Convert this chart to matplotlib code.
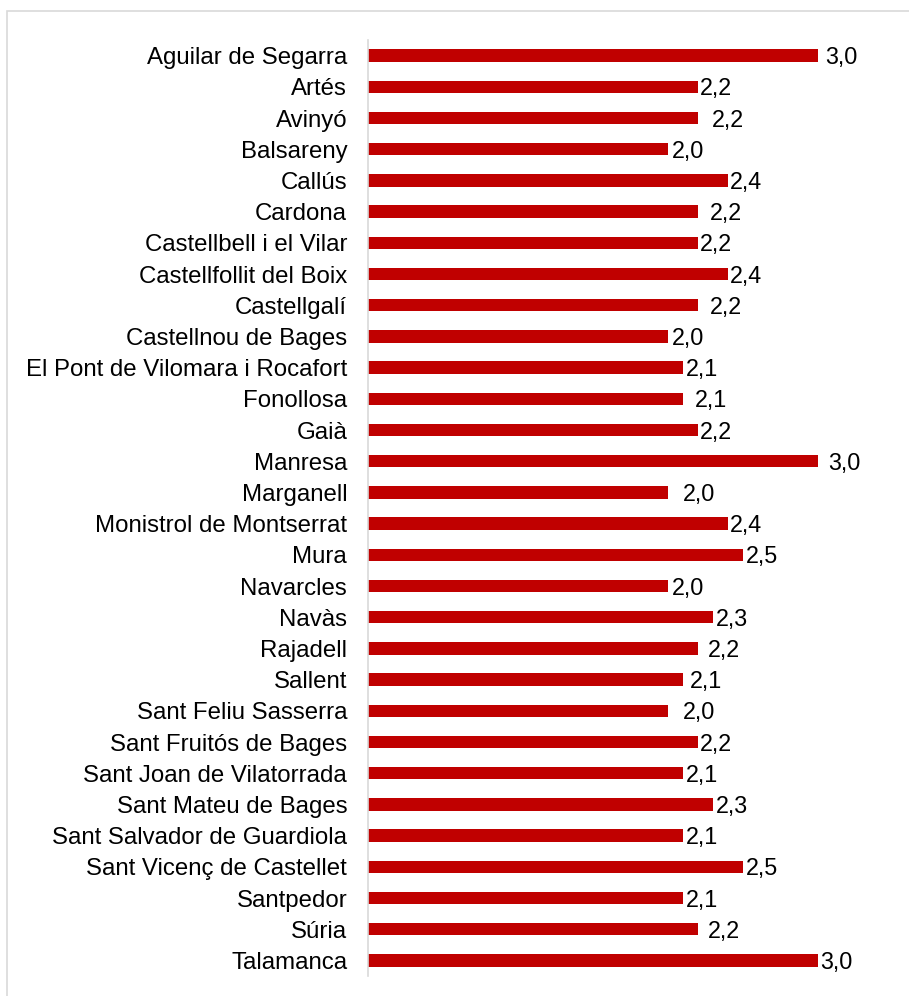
import matplotlib.pyplot as plt
from matplotlib.patches import Rectangle

plt.rcParams['font.family'] = ['Liberation Sans', 'DejaVu Sans']

municipis = [
    "Aguilar de Segarra", "Artés", "Avinyó", "Balsareny", "Callús", "Cardona",
    "Castellbell i el Vilar", "Castellfollit del Boix", "Castellgalí",
    "Castellnou de Bages", "El Pont de Vilomara i Rocafort", "Fonollosa", "Gaià",
    "Manresa", "Marganell", "Monistrol de Montserrat", "Mura", "Navarcles",
    "Navàs", "Rajadell", "Sallent", "Sant Feliu Sasserra", "Sant Fruitós de Bages",
    "Sant Joan de Vilatorrada", "Sant Mateu de Bages", "Sant Salvador de Guardiola",
    "Sant Vicenç de Castellet", "Santpedor", "Súria", "Talamanca",
]
valors = [3.0, 2.2, 2.2, 2.0, 2.4, 2.2, 2.2, 2.4, 2.2, 2.0, 2.1, 2.1, 2.2, 3.0, 2.0,
          2.4, 2.5, 2.0, 2.3, 2.2, 2.1, 2.0, 2.2, 2.1, 2.3, 2.1, 2.5, 2.1, 2.2, 3.0]

# desplaçament manual de les etiquetes (px), com a l'original
nudge = [7, 2, 14, 4, 2, 12, 2, 2, 12, 4, 3, 12, 2, 10, 15,
         2, 3, 4, 3, 10, 7, 15, 2, 3, 3, 3, 3, 3, 10, 2]

W, H = 909, 996
fig = plt.figure(figsize=(W / 100, H / 100), dpi=100)

# marc gris exterior
fig.patches.append(Rectangle((7 / W, -0.05), 1.2, 1 - 11 / H + 0.05,
                             transform=fig.transFigure, fill=False,
                             edgecolor='#D9D9D9', linewidth=1.2))

ax = fig.add_axes([368 / W, 1 - 976 / H, (863 - 368) / W, (976 - 40) / H])

y = list(range(len(municipis)))
ax.barh(y, valors, height=0.4, color='#C00000')
ax.set_xlim(0, 3.3)
ax.set_ylim(len(municipis) - 0.5, -0.5)
ax.set_yticks(y)
ax.set_yticklabels(municipis, fontsize=17.3)
ax.tick_params(axis='y', length=0, pad=15)
ax.set_xticks([])

for s in ['top', 'right', 'bottom']:
    ax.spines[s].set_visible(False)
ax.spines['left'].set_color('#D9D9D9')
ax.spines['left'].set_linewidth(1.2)

for yi, v, d in zip(y, valors, nudge):
    ax.annotate(f"{v:.1f}".replace('.', ','), (v, yi), xytext=(d * 0.72, -1.5),
                textcoords='offset points', va='center', ha='left',
                fontsize=16.8, clip_on=False)

fig.savefig('out.png', dpi=100)
